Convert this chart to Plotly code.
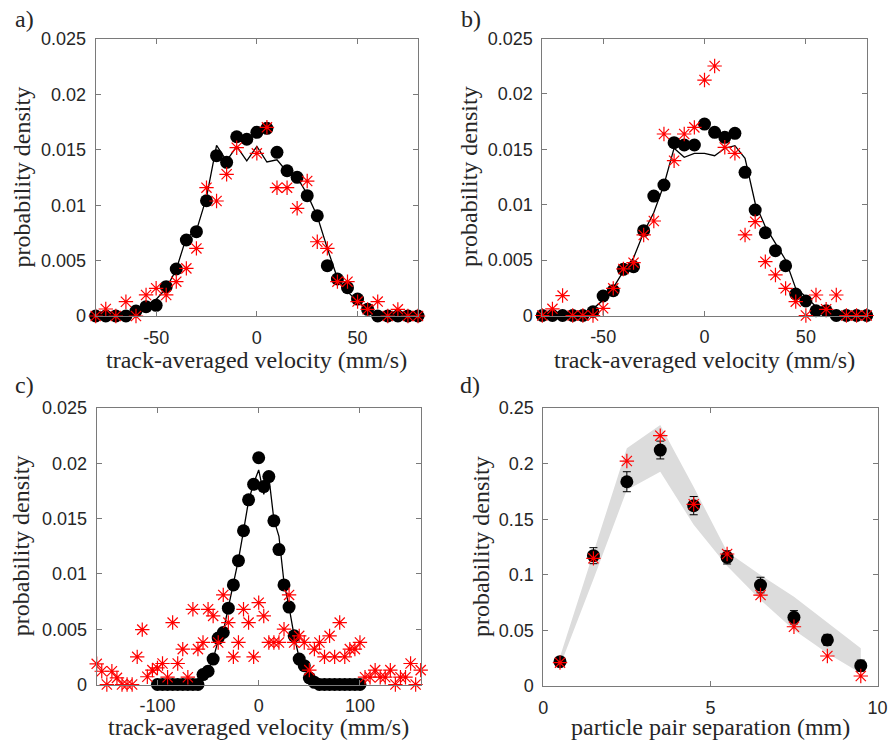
import plotly.graph_objects as go

W, H = 894, 742

# ---------------- data ----------------
vel_ab = list(range(-80, 81, 5))

a_circles = [0, 0, 0, 0, 0.00045, 0.00084, 0.00096, 0.00265, 0.00424, 0.00686, 0.00761,
             0.0104, 0.01447, 0.01387, 0.01618, 0.01595, 0.01658, 0.01694, 0.01477, 0.01311,
             0.01252, 0.01086, 0.00905, 0.00454, 0.00334, 0.00256, 0.00153, 0.0006, 0, 0, 0, 0, 0]
a_line = [0, 0, 0, 0.0001, 0.0004, 0.0009, 0.0015, 0.0025, 0.0042, 0.0071, 0.0077,
          0.0107, 0.0154, 0.0140, 0.0153, 0.0140, 0.0153, 0.0139, 0.0141, 0.0130,
          0.0125, 0.0110, 0.0090, 0.0061, 0.0034, 0.0022, 0.0013, 0.0005, 0, 0, 0, 0, 0]
a_stars = [0, 0.00063, 0, 0.00129, 0, 0.0019, 0.0025, 0.0019, 0.0031, 0.0043, 0.0061,
           0.01158, 0.01038, 0.01279, 0.01519, None, 0.01468, 0.01703, 0.01158, 0.01158,
           0.00972, 0.01218, 0.0067, 0.0061, 0.0031, 0.0031, 0.0013, 0.0006, 0.0013, 0,
           0.0006, 0, 0]

b_circles = [0, 0, 0, 0, 0, 0.00034, 0.00176, 0.00224, 0.00417, 0.0044, 0.00766,
             0.01078, 0.01178, 0.0156, 0.01539, 0.01539, 0.01728, 0.01653, 0.01608, 0.01644,
             0.01292, 0.00952, 0.00747, 0.00585, 0.00449, 0.00194, 0.00131, 0.00043, 0.00043,
             0, 0, 0, 0]
b_line = [0, 0, 0, 0, 0.0001, 0.0006, 0.0014, 0.0025, 0.0040, 0.0052, 0.0075,
          0.0093, 0.0118, 0.0151, 0.01428, 0.01464, 0.01464, 0.01442, 0.01509, 0.01533,
          0.01419, 0.01013, 0.00802, 0.00652, 0.00501, 0.00245, 0.0017, 0.0008, 0.0002,
          0, 0, 0, 0]
b_stars = [0, 0.0006, 0.0018, 0, 0, 0, 0.00065, 0.00245, 0.0042, 0.00477, 0.00727,
           0.00853, 0.01638, 0.01397, 0.01638, 0.01698, 0.02125, 0.02252, 0.01518, 0.01464,
           0.00727, 0.00847, 0.00486, 0.00366, 0.00245, 0.00125, 0, 0.00185, 0.00056,
           0.00185, 0, 0, 0]

vel_c_black = list(range(-100, 101, 5))
c_circles = [0, 0, 0, 0, 0, 0, 0, 0, 0, 0.0009, 0.0012, 0.0023, 0.0042, 0.0047, 0.0069,
             0.0090, 0.0112, 0.0139, 0.0167, 0.0181, 0.0205, 0.0179, 0.0188, 0.0148, 0.0122,
             0.0090, 0.0070, 0.0044, 0.0023, 0.0017, 0.0006, 0.0002, 0, 0, 0, 0, 0, 0, 0, 0, 0]
c_line = [0, 0, 0, 0, 0, 0, 0, 0, 0.0001, 0.0007, 0.0013, 0.0023, 0.0040, 0.0048, 0.0070,
          0.0091, 0.0113, 0.0139, 0.0166, 0.0182, 0.0194, 0.0172, 0.0188, 0.0149, 0.0134,
          0.0092, 0.0070, 0.0044, 0.0024, 0.0015, 0.0006, 0.0002, 0, 0, 0, 0, 0, 0, 0, 0, 0]
vel_c_red = list(range(-160, 161, 5))
c_stars = [0.00187, 0.0012, 0, 0.0012, 0.0006, 0, 0, 0, 0.0025, 0.00496, 0.0007, 0.0013,
           0.0015, 0.0019, 0.00066, 0.0056, 0.0019, 0.0032, 0.00066, 0.0068, 0.0032, 0.0038,
           0.0068, 0.0062, 0.0038, 0.0081, 0.0056, 0.0025, 0.0038, 0.0068, 0.0056, 0.0025,
           0.0074, 0.0062, 0.0038, 0.0038, 0.0038, 0.005, 0.0081, 0.0038, 0.0044, 0.0038,
           0.0013, 0.0032, 0.0038, 0.0025, 0.0044, 0.0025, 0.0056, 0.0025, 0.0032, 0.0032,
           0.0038, 0.00066, 0.00066, 0.0013, 0.00066, 0.00066, 0.0013, 0, 0.00066, 0.00066,
           0.0019, 0, 0.0013]

sep = [0.5, 1.5, 2.5, 3.5, 4.5, 5.5, 6.5, 7.5, 8.5, 9.5]
d_circles = [0.0219, 0.1172, 0.1837, 0.2122, 0.1622, 0.1157, 0.0908, 0.0618, 0.0414, 0.0183]
d_err = [0.002, 0.0072, 0.009, 0.008, 0.0082, 0.006, 0.007, 0.006, 0.005, 0.005]
d_stars = [0.021, 0.1148, 0.2023, 0.2251, 0.1634, 0.1187, 0.0818, 0.0533, 0.027, 0.009]
d_band_hi = [0.0264, 0.119, 0.2137, 0.2347, 0.179, 0.1208, 0.0998, 0.0803, 0.0569, 0.0339]
d_band_lo = [0.018, 0.096, 0.1763, 0.1927, 0.145, 0.108, 0.0773, 0.0504, 0.0294, 0.0114]

vel_ticks_ab = [-50, 0, 50]
vel_ticks_c = [-100, 0, 100]
sep_ticks = [0, 5, 10]
pd_ticks = [0, 0.005, 0.01, 0.015, 0.02, 0.025]
pd_ticktext = ["0", "0.005", "0.01", "0.015", "0.02", "0.025"]
pd_ticks_d = [0, 0.05, 0.1, 0.15, 0.2, 0.25]
pd_ticktext_d = ["0", "0.05", "0.1", "0.15", "0.2", "0.25"]

xlabel_v = "track-averaged velocity (mm/s)"
xlabel_d = "particle pair separation (mm)"
ylabel = "probability density"
panel_labels = ["a)", "b)", "c)", "d)"]

# ---------------- layout geometry (pixels) ----------------
boxes = {
    1: (95.7, 418.0, 39.0, 316.0),
    2: (542.3, 866.7, 38.5, 315.5),
    3: (96.7, 420.7, 408.0, 684.5),
    4: (543.3, 877.5, 408.0, 686.0),
}

fig = go.Figure()

circ = dict(symbol="circle", size=13, color="black")
star = dict(symbol="asterisk-open", size=12, color="red", line=dict(color="red", width=1.2))


def add_vel_panel(k, xv, line_y, circ_y, xs, star_y):
    xa = "x" if k == 1 else f"x{k}"
    ya = "y" if k == 1 else f"y{k}"
    fig.add_trace(go.Scatter(x=xv, y=line_y, mode="lines", line=dict(color="black", width=1.3),
                             xaxis=xa, yaxis=ya, showlegend=False, cliponaxis=False))
    fig.add_trace(go.Scatter(x=xv, y=circ_y, mode="markers", marker=circ,
                             xaxis=xa, yaxis=ya, showlegend=False, cliponaxis=False))
    fig.add_trace(go.Scatter(x=xs, y=star_y, mode="markers", marker=star,
                             xaxis=xa, yaxis=ya, showlegend=False, cliponaxis=False))


add_vel_panel(1, vel_ab, a_line, a_circles, vel_ab, a_stars)
add_vel_panel(2, vel_ab, b_line, b_circles, vel_ab, b_stars)
add_vel_panel(3, vel_c_black, c_line, c_circles, vel_c_red, c_stars)

# panel d
fig.add_trace(go.Scatter(x=sep + sep[::-1], y=d_band_hi + d_band_lo[::-1], fill="toself",
                         fillcolor="#dcdcdc", line=dict(width=0), mode="lines",
                         xaxis="x4", yaxis="y4", showlegend=False, hoverinfo="skip"))
fig.add_trace(go.Scatter(x=sep, y=d_circles, mode="markers", marker=circ,
                         error_y=dict(type="data", array=d_err, color="black", thickness=1, width=4),
                         xaxis="x4", yaxis="y4", showlegend=False, cliponaxis=False))
fig.add_trace(go.Scatter(x=sep, y=d_stars, mode="markers", marker=star,
                         xaxis="x4", yaxis="y4", showlegend=False, cliponaxis=False))

tickfont = dict(family="Liberation Sans, Arial, sans-serif", size=18, color="#262626")
axcommon = dict(showline=True, mirror="ticks", ticks="inside", ticklen=5, linecolor="#7a7a7a",
                tickcolor="#7a7a7a", linewidth=1, showgrid=False, zeroline=False,
                tickfont=tickfont, fixedrange=True, automargin=False)

xranges = {1: [-80, 80], 2: [-80, 80], 3: [-160, 160], 4: [0, 10]}
xticks = {1: vel_ticks_ab, 2: vel_ticks_ab, 3: vel_ticks_c, 4: sep_ticks}
yranges = {1: [0, 0.025], 2: [0, 0.025], 3: [0, 0.025], 4: [0, 0.25]}

lay = dict(template="none", width=W, height=H, margin=dict(l=0, r=0, t=0, b=0, pad=0),
           paper_bgcolor="white", plot_bgcolor="white", showlegend=False)
for k, (x0, x1, y0, y1) in boxes.items():
    xn = "xaxis" if k == 1 else f"xaxis{k}"
    yn = "yaxis" if k == 1 else f"yaxis{k}"
    ya = "y" if k == 1 else f"y{k}"
    xa = "x" if k == 1 else f"x{k}"
    lay[xn] = dict(axcommon, domain=[x0 / W, x1 / W], range=xranges[k], anchor=ya,
                   tickvals=xticks[k], ticktext=[str(v) for v in xticks[k]],
                   ticklabelstandoff=5)
    if k == 4:
        tv, tt = pd_ticks_d, pd_ticktext_d
    else:
        tv, tt = pd_ticks, pd_ticktext
    lay[yn] = dict(axcommon, domain=[1 - y1 / H, 1 - y0 / H], range=yranges[k], anchor=xa,
                   tickvals=tv, ticktext=tt, ticklabelstandoff=5)
fig.update_layout(**lay)

serif = dict(family="Liberation Serif, Times New Roman, serif", size=24, color="#262626")
ann = []
ylab_x = {1: 21, 2: 469, 3: 21, 4: 481}
plab_pos = {1: (24, 19), 2: (471, 19), 3: (24, 385), 4: (470, 385)}
for k, (x0, x1, y0, y1) in boxes.items():
    if k in (1, 2):
        ty, tya = 1 - (y1 + 44) / H, "middle"
    else:
        ty, tya = 0.0, "bottom"
    ann.append(dict(text=xlabel_d if k == 4 else xlabel_v, x=(x0 + x1) / 2 / W, y=ty,
                    xref="paper", yref="paper", showarrow=False, font=serif,
                    xanchor="center", yanchor=tya))
    ann.append(dict(text=ylabel, x=ylab_x[k] / W, y=1 - (y0 + y1) / 2 / H, textangle=-90,
                    xref="paper", yref="paper", showarrow=False, font=serif,
                    xanchor="center", yanchor="middle"))
    px, py = plab_pos[k]
    ann.append(dict(text=panel_labels[k - 1], x=px / W, y=1 - py / H, xref="paper", yref="paper",
                    showarrow=False, font=serif, xanchor="center", yanchor="middle"))
fig.update_layout(annotations=ann)

fig.write_html("out.html")
